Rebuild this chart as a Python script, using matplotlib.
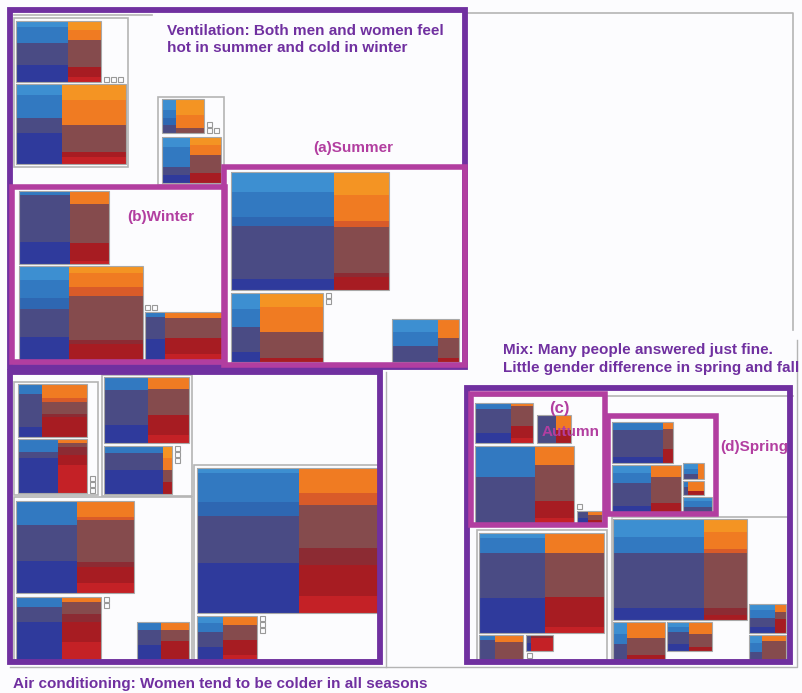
import matplotlib.pyplot as plt
from matplotlib.patches import Rectangle

plt.rcParams['font.family'] = ['Liberation Sans', 'DejaVu Sans']

# thermal sensation answers, hot -> cold
levels = ['hot', 'warm', 'slightly warm', 'neutral', 'slightly cool', 'cool', 'cold']
men_colors = ['#3d8fd1', '#3279c1', '#2e67b2', '#4a4b84', '#363b8c', '#2f3a9c', '#2f3ca8']
women_colors = ['#f49423', '#f07b22', '#d95b29', '#854b4d', '#8c2b33', '#a71c22', '#c42126']

block_names = ['A1', 'A2', 'B1', 'B2',
               'S1', 'S2', 'S3',
               'W1', 'W2', 'W3',
               'C1', 'C2', 'C3', 'C4', 'C5', 'C6', 'C7', 'C8', 'C9',
               'Au1', 'Au2', 'Au3', 'Au4',
               'Sp1', 'Sp2', 'Sp3', 'Sp4', 'Sp5',
               'M1', 'M2', 'M3', 'M4', 'M5', 'M6', 'M7', 'M8']

# share of men among respondents of each block
men_share = [0.61, 0.42, 0.33, 0.47,
             0.65, 0.32, 0.69,
             0.57, 0.40, 0.26,
             0.35, 0.58, 0.52, 0.87, 0.52, 0.54, 0.46, 0.56, 0.43,
             0.62, 0.56, 0.61, 0.44,
             0.84, 0.57, 0.71, 0.24, 1.00,
             0.53, 0.36, 0.19, 0.68, 0.27, 0.49, 0.70, 0.35]

# answers per level (relative)
men_votes = [
    [6, 16, 0, 22, 0, 17, 0], [11, 23, 0, 15, 0, 31, 0],
    [11, 8, 7, 8, 0, 0, 0], [10, 20, 0, 8, 0, 8, 0],
    [20, 25, 9, 53, 0, 11, 0], [16, 18, 0, 25, 0, 10, 0], [13, 14, 0, 16, 0, 0, 0],
    [0, 4, 0, 47, 0, 22, 0], [14, 17, 11, 27, 0, 23, 0], [0, 5, 0, 21, 0, 20, 0],
    [0, 10, 0, 33, 0, 10, 0], [0, 13, 0, 6, 0, 35, 0], [0, 13, 0, 35, 0, 18, 0],
    [0, 7, 0, 17, 0, 24, 0], [0, 24, 0, 36, 0, 32, 0], [0, 10, 0, 15, 0, 38, 0],
    [0, 8, 0, 15, 0, 15, 0], [5, 29, 14, 47, 0, 50, 0], [7, 9, 0, 15, 0, 13, 0],
    [0, 6, 0, 24, 0, 10, 0], [0, 0, 0, 8, 0, 0, 0], [0, 31, 0, 46, 0, 0, 0],
    [0, 0, 0, 7, 0, 5, 0],
    [0, 8, 0, 27, 0, 6, 0], [8, 10, 0, 23, 0, 6, 0], [6, 5, 0, 5, 0, 0, 0],
    [0, 6, 0, 8, 0, 0, 0], [4, 5, 0, 5, 0, 0, 0],
    [5, 15, 0, 45, 0, 35, 0], [0, 5, 0, 20, 0, 0, 0], [0, 0, 0, 8, 0, 8, 0],
    [18, 16, 0, 55, 0, 12, 0], [12, 10, 0, 16, 0, 0, 0], [5, 5, 0, 12, 0, 7, 0],
    [6, 8, 0, 9, 0, 6, 0], [8, 9, 0, 8, 0, 0, 0],
]
women_votes = [
    [9, 10, 0, 27, 0, 10, 5], [16, 25, 0, 27, 0, 5, 7],
    [16, 13, 0, 5, 0, 0, 0], [8, 10, 0, 18, 0, 10, 0],
    [23, 26, 6, 46, 4, 13, 0], [14, 25, 0, 26, 0, 4, 0], [0, 19, 0, 20, 0, 4, 0],
    [0, 13, 0, 39, 0, 18, 3], [7, 14, 8, 43, 4, 16, 0], [0, 6, 0, 18, 0, 15, 6],
    [0, 14, 4, 12, 3, 20, 0], [0, 4, 0, 4, 8, 10, 28], [0, 12, 0, 26, 0, 20, 8],
    [12, 12, 0, 12, 0, 12, 0], [0, 16, 3, 42, 5, 16, 10], [0, 5, 0, 12, 8, 20, 18],
    [0, 8, 0, 11, 0, 19, 0], [0, 25, 12, 43, 17, 31, 17], [0, 9, 0, 15, 0, 15, 5],
    [0, 3, 0, 20, 0, 12, 5], [0, 15, 0, 0, 0, 13, 0], [0, 19, 0, 36, 0, 17, 5],
    [0, 4, 0, 5, 0, 3, 0],
    [0, 7, 0, 20, 0, 14, 0], [0, 12, 0, 26, 0, 9, 0], [0, 16, 0, 0, 0, 0, 0],
    [0, 10, 0, 0, 0, 4, 0], [0, 0, 0, 0, 0, 0, 0],
    [0, 20, 0, 44, 0, 30, 6], [0, 7, 0, 18, 0, 0, 0], [0, 0, 0, 0, 3, 0, 13],
    [13, 17, 4, 55, 7, 5, 0], [0, 16, 0, 17, 0, 5, 0], [0, 12, 0, 13, 0, 4, 0],
    [0, 8, 0, 7, 0, 15, 0], [0, 6, 0, 19, 0, 0, 0],
]

# treemap layout (pixel boxes x0, y0, x1, y1)
block_boxes = [
    (16, 21, 101, 82), (16, 84, 126, 164), (162, 99, 204, 133), (162, 137, 221, 183),
    (231, 172, 389, 290), (231, 293, 323, 362), (392, 319, 459, 362),
    (19, 191, 109, 264), (19, 266, 143, 360), (145, 312, 222, 360),
    (18, 384, 87, 437), (18, 439, 87, 493), (104, 377, 189, 443), (104, 446, 172, 494),
    (16, 501, 134, 593), (16, 597, 101, 660), (137, 622, 189, 660), (197, 468, 379, 613),
    (197, 616, 257, 660),
    (475, 403, 533, 443), (537, 415, 571, 443), (475, 446, 574, 523), (577, 511, 602, 523),
    (612, 422, 673, 463), (612, 465, 681, 512), (683, 463, 704, 479), (683, 481, 704, 495),
    (683, 497, 712, 512),
    (479, 533, 604, 633), (479, 635, 523, 660), (526, 635, 553, 651), (613, 519, 747, 620),
    (613, 622, 665, 660), (667, 622, 712, 651), (749, 604, 786, 633), (749, 635, 786, 660),
]
group_boxes = [(14, 18, 128, 167), (158, 97, 224, 185), (14, 382, 98, 495),
               (102, 375, 192, 496), (14, 497, 192, 660), (194, 465, 380, 660),
               (477, 530, 607, 660), (612, 517, 788, 660)]
empty_marks = [(104, 77), (111, 77), (118, 77), (207, 122), (207, 128), (214, 128),
               (326, 293), (326, 299), (145, 305), (152, 305), (90, 476), (90, 482),
               (90, 488), (175, 446), (175, 452), (175, 458), (104, 597), (104, 603),
               (260, 616), (260, 622), (260, 628), (577, 504), (527, 653)]

season_frames = [(224, 167, 465, 365), (12, 187, 225, 362), (471, 394, 605, 525), (608, 416, 716, 514)]
topic_frames = [(10, 10, 465, 367), (10, 372, 380, 662), (467, 388, 790, 662)]

purple = '#7030a0'
magenta = '#b23ea0'
gray = '#b4b4b4'

fig = plt.figure(figsize=(8.02, 6.93), dpi=100, facecolor='#fcfcfe')
ax = fig.add_axes([0, 0, 1, 1])
ax.set_xlim(0, 802)
ax.set_ylim(693, 0)
ax.axis('off')


def rect(x0, y0, x1, y1, **kw):
    ax.add_patch(Rectangle((x0, y0), x1 - x0, y1 - y0, **kw))


# outer gray outlines
ax.plot([465, 793, 793], [13, 13, 330], color=gray, lw=1.2)
ax.plot([14, 152], [15, 15], color=gray, lw=1.2)
ax.plot([10, 797, 797], [667, 667, 340], color=gray, lw=1.0)
ax.plot([386, 386], [372, 667], color=gray, lw=1.0)
ax.plot([475, 793], [396, 396], color=gray, lw=1.2)
for g in group_boxes:
    rect(*g, fill=False, ec=gray, lw=1.2)

for box, share, mv, wv in zip(block_boxes, men_share, men_votes, women_votes):
    x0, y0, x1, y1 = box
    xm = x0 + (x1 - x0) * share
    for (cx0, cx1, votes, cols) in [(x0, xm, mv, men_colors), (xm, x1, wv, women_colors)]:
        tot = sum(votes)
        if tot == 0 or cx1 - cx0 <= 0:
            continue
        y = y0
        for v, c in zip(votes, cols):
            h = (y1 - y0) * v / tot
            if h > 0:
                rect(cx0, y, cx1, y + h, fc=c, ec='none')
            y += h
    rect(x0, y0, x1, y1, fill=False, ec='#a8a8a8', lw=0.8)

for (x, y) in empty_marks:
    rect(x, y, x + 5, y + 5, fill=False, ec='#999999', lw=0.8)

for f in topic_frames:
    rect(*f, fill=False, ec=purple, lw=4.2, zorder=5)
for f in season_frames:
    rect(*f, fill=False, ec=magenta, lw=4.0, zorder=6)

tk = dict(fontweight='bold', va='center', zorder=10)
ax.text(167, 31, 'Ventilation: Both men and women feel', color=purple, fontsize=11, **tk)
ax.text(167, 48, 'hot in summer and cold in winter', color=purple, fontsize=11, **tk)
ax.text(313, 148, '(a)Summer', color=magenta, fontsize=11, **tk)
ax.text(127, 217, '(b)Winter', color=magenta, fontsize=11, **tk)
ax.text(559, 408, '(c)', color=magenta, fontsize=12, ha='center', **tk)
ax.text(571, 432, 'Autumn', color=magenta, fontsize=11, ha='center', **tk)
ax.text(720, 447, '(d)Spring', color=magenta, fontsize=11, **tk)
ax.text(503, 350, 'Mix: Many people answered just fine.', color=purple, fontsize=11, **tk)
ax.text(503, 368, 'Little gender difference in spring and fall', color=purple, fontsize=11, **tk)
ax.text(13, 684, 'Air conditioning: Women tend to be colder in all seasons', color=purple,
        fontsize=11, **tk)

fig.savefig('out.png', dpi=100, facecolor=fig.get_facecolor())
